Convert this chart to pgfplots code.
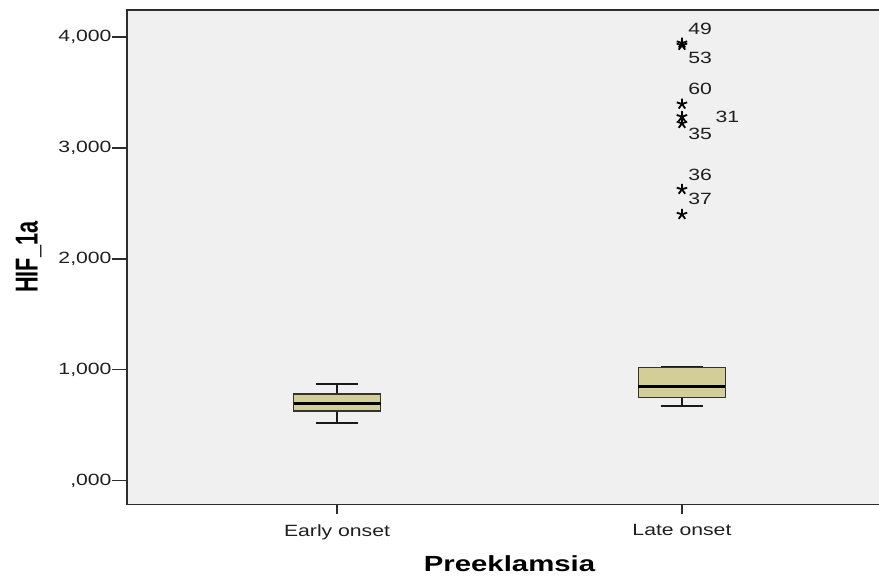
\documentclass[border=0pt]{standalone}
\usepackage{pgfplots}
\pgfplotsset{compat=1.18}
\usepackage{graphicx}
\usepackage{fontspec}
\setmainfont{Liberation Sans}
\definecolor{boxfill}{RGB}{211,206,151}
\definecolor{plotbg}{RGB}{240,240,240}
\definecolor{framegray}{RGB}{45,45,45}
\newcommand\wide[1]{\scalebox{1.3}[1]{#1}}
\newcommand\lbl[1]{\fontsize{16.3}{19}\selectfont\wide{#1}}

\begin{document}
\begin{tikzpicture}
\begin{axis}[
    at={(127pt,72.5pt)}, anchor=south west,
    scale only axis, width=765pt, height=494.5pt,
    xmin=0.391, xmax=2.609, ymin=-216, ymax=4243,
    axis background/.style={fill=plotbg},
    axis line style={draw=framegray, line width=1.8pt},
    tick align=outside,
    xtick pos=lower, ytick pos=left,
    major tick length=15pt,
    tick style={draw=framegray, line width=1.7pt},
    xtick style={/pgfplots/major tick length=10pt},
    xtick={1,2},
    xticklabels={\lbl{Early onset},\lbl{Late onset}},
    ytick={0,1000,2000,3000,4000},
    yticklabels={{\lbl{,000}},{\lbl{1,000}},{\lbl{2,000}},{\lbl{3,000}},{\lbl{4,000}}},
    xticklabel style={inner sep=0pt, yshift=-4.5pt, text=black!88},
    yticklabel style={inner sep=0pt, xshift=-0.3pt, text=black!88},
    xlabel={\fontsize{21.9}{24}\selectfont\bfseries\scalebox{1.34}[1]{Preeklamsia}},
    ylabel={\fontsize{21.7}{24}\selectfont\bfseries\scalebox{1}[1.46]{HIF\_1a}},
    every axis x label/.style={at={(rel axis cs:0.5,0)}, anchor=base, yshift=-67.5pt, inner sep=0pt},
    every axis y label/.style={at={(rel axis cs:-0.1285,0.5)}, rotate=90, anchor=center, inner sep=0pt},
    clip=false,
]
% Early onset: whiskers, box, median
\addplot[black!90, line width=2pt] coordinates {(1,780) (1,870)};
\addplot[black!90, line width=2pt] coordinates {(0.939,870) (1.061,870)};
\addplot[black!90, line width=2pt] coordinates {(1,629) (1,516)};
\addplot[black!90, line width=2pt] coordinates {(0.939,516) (1.061,516)};
\addplot[fill=boxfill, draw=black!80, line width=1.6pt] coordinates {(0.874,629) (1.126,629) (1.126,780) (0.874,780)} -- cycle;
\addplot[black, line width=3.2pt] coordinates {(0.874,696) (1.126,696)};
% Late onset: whiskers, box, median
\addplot[black!90, line width=2pt] coordinates {(1.939,1026) (2.061,1026)};
\addplot[black!90, line width=2pt] coordinates {(2,750) (2,672)};
\addplot[black!90, line width=2pt] coordinates {(1.939,672) (2.061,672)};
\addplot[fill=boxfill, draw=black!80, line width=1.6pt] coordinates {(1.874,750) (2.126,750) (2.126,1021) (1.874,1021)} -- cycle;
\addplot[black, line width=3.2pt] coordinates {(1.874,846) (2.126,846)};
% extreme values
\addplot[only marks, mark=star, mark size=5.5pt, black, line width=1.8pt] coordinates {
    (2,3945) (2,3925) (2,3395) (2,3281) (2,3221) (2,2626) (2,2400)
};
\node[anchor=west, inner sep=0pt, text=black!88] at (axis cs:2.018,4071) {\lbl{49}};
\node[anchor=west, inner sep=0pt, text=black!88] at (axis cs:2.018,3810) {\lbl{53}};
\node[anchor=west, inner sep=0pt, text=black!88] at (axis cs:2.018,3530) {\lbl{60}};
\node[anchor=west, inner sep=0pt, text=black!88] at (axis cs:2.097,3278) {\lbl{31}};
\node[anchor=west, inner sep=0pt, text=black!88] at (axis cs:2.018,3124) {\lbl{35}};
\node[anchor=west, inner sep=0pt, text=black!88] at (axis cs:2.018,2755) {\lbl{36}};
\node[anchor=west, inner sep=0pt, text=black!88] at (axis cs:2.018,2538) {\lbl{37}};
\end{axis}
\pgfresetboundingbox
\useasboundingbox (0,0) rectangle (879pt,577pt);
\end{tikzpicture}
\end{document}
